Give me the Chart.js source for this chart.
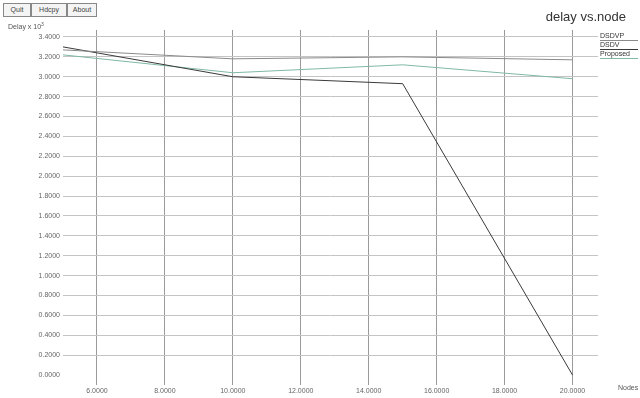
<!DOCTYPE html>
<html><head><meta charset="utf-8">
<script src="https://cdn.jsdelivr.net/npm/chart.js@4/dist/chart.umd.min.js"></script>
<style>
html,body{margin:0;padding:0;background:#fff;}
#wrap{position:relative;width:640px;height:398px;overflow:hidden;font-family:"Liberation Sans",Arial,sans-serif;}
canvas{position:absolute;left:0;top:0;}
.btn{position:absolute;top:3px;height:12px;border:1px solid #888;font-size:7px;line-height:12px;color:#444;text-align:center;background:#f4f4f4;}
.lbl{position:absolute;color:#555;font-size:7px;white-space:nowrap;}
#title{position:absolute;right:14px;top:9px;font-size:13px;color:#333;}
</style></head>
<body><div id="wrap">
<canvas id="c" width="640" height="398"></canvas>
<div class="btn" style="left:3px;width:26px">Quit</div>
<div class="btn" style="left:31px;width:34px">Hdcpy</div>
<div class="btn" style="left:67px;width:28px">About</div>
<div id="title">delay vs.node</div>
<div class="lbl" style="left:8px;top:21px">Delay x 10<sup style="font-size:5px">3</sup></div>
<div class="lbl" style="left:618px;top:384px">Nodes</div>
</div>
<script>
const nodes = [5, 10, 15, 20];
const seriesNames = ["DSDVP", "DSDV", "Proposed"];
const dsdvp = [3.27, 3.18, 3.20, 3.17];
const dsdv = [3.30, 3.00, 2.93, 0.00];
const proposed = [3.22, 3.04, 3.12, 2.98];
const seriesColors = ["#8a8a8a", "#3a3a3a", "#7fb8a6"];
const yTicks = [0,0.2,0.4,0.6,0.8,1.0,1.2,1.4,1.6,1.8,2.0,2.2,2.4,2.6,2.8,3.0,3.2,3.4];

const allSeries = [dsdvp, dsdv, proposed];
const datasets = allSeries.map((vals, i) => ({
  label: seriesNames[i],
  data: nodes.map((n, j) => ({x: n, y: vals[j]})),
  borderColor: seriesColors[i],
  backgroundColor: seriesColors[i],
  borderWidth: 1,
  pointRadius: 0,
  tension: 0,
  fill: false
}));

const legendPlugin = {
  id: 'xgLegend',
  afterDraw(chart) {
    const ctx = chart.ctx;
    ctx.save();
    ctx.font = '7px "Liberation Sans", Arial, sans-serif';
    ctx.textBaseline = 'middle';
    chart.data.datasets.forEach((ds, i) => {
      const y = 36 + i * 9;
      ctx.fillStyle = '#333';
      ctx.fillText(ds.label, 600, y);
      ctx.strokeStyle = ds.borderColor;
      ctx.lineWidth = 1;
      ctx.beginPath();
      ctx.moveTo(600, y + 4.5);
      ctx.lineTo(638, y + 4.5);
      ctx.stroke();
    });
    ctx.restore();
  }
};

new Chart(document.getElementById('c'), {
  type: 'line',
  data: { datasets },
  options: {
    responsive: false,
    animation: false,
    layout: { padding: { left: 5, right: 42, top: 30, bottom: 0 } },
    plugins: { legend: { display: false }, tooltip: { enabled: false }, title: { display: false } },
    scales: {
      x: {
        type: 'linear',
        min: 5, max: 20.75,
        afterFit(s) { s.height = 13; },
        afterBuildTicks(s) { s.ticks = [6,8,10,12,14,16,18,20].map(v => ({value: v})); },
        border: { display: false },
        grid: { color: '#9a9a9a', lineWidth: 1, drawTicks: false },
        ticks: {
          padding: 2,
          color: '#666',
          font: { size: 7, family: '"Liberation Sans", Arial, sans-serif' },
          maxRotation: 0,
          callback: v => Number(v).toFixed(4)
        }
      },
      y: {
        type: 'linear',
        min: -0.1, max: 3.47,
        afterFit(s) { s.width = 58; },
        afterBuildTicks(s) { s.ticks = yTicks.map(v => ({value: v})); },
        border: { display: false },
        grid: {
          drawTicks: false,
          lineWidth: 1,
          color: c => (c.tick && c.tick.value === 0) ? 'rgba(0,0,0,0)' : '#c4c4c4'
        },
        ticks: {
          padding: 3,
          color: '#666',
          font: { size: 7, family: '"Liberation Sans", Arial, sans-serif' },
          callback: v => Number(v).toFixed(4)
        }
      }
    }
  },
  plugins: [legendPlugin]
});
</script>
</body></html>
